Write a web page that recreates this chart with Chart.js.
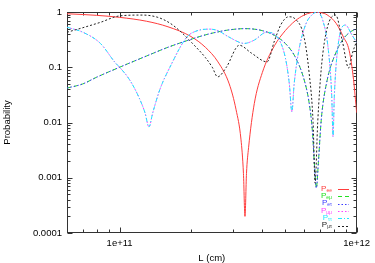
<!DOCTYPE html>
<html><head><meta charset="utf-8">
<script src="https://cdn.jsdelivr.net/npm/chart.js@4/dist/chart.umd.min.js"></script>
<style>html,body{margin:0;padding:0;background:#fff}canvas{display:block}</style>
</head><body>
<canvas id="c" width="375" height="263"></canvas>
<script>
// ---- data (L in cm, probabilities) ----
const L_ee = [6e10,7e10,8e10,1e11,1.3e11,1.6e11,2e11,2.3e11,2.6e11,2.9e11,3.1e11,3.25e11,3.33e11,3.38e11,3.43e11,3.5e11,3.7e11,4e11,4.5e11,5e11,5.5e11,6e11,6.4e11,6.76e11,7.1e11,7.5e11,8.2e11,8.8e11,9.3e11,9.7e11,1e12];
const P_ee = [0.93,0.90,0.87,0.80,0.68,0.54,0.36,0.23,0.125,0.05,0.017,0.005,0.0012,0.0002,0.0012,0.0035,0.022,0.08,0.245,0.46,0.69,0.88,0.97,1.0,0.97,0.89,0.62,0.35,0.2,0.06,0.015];

const L_em = [6e10,7e10,8e10,1e11,1.3e11,1.6e11,2e11,2.3e11,2.6e11,2.9e11,3.38e11,4e11,4.5e11,5e11,5.5e11,6e11,6.3e11,6.5e11,6.65e11,6.76e11,6.9e11,7.1e11,7.5e11,8.2e11,8.8e11,9.3e11,9.7e11,1e12];
const P_em = [0.042,0.05,0.066,0.10,0.16,0.23,0.32,0.385,0.437,0.475,0.5,0.46,0.377,0.27,0.155,0.06,0.023,0.0073,0.0015,0.00065,0.002,0.012,0.057,0.19,0.33,0.42,0.47,0.49];

const L_et = L_em.slice();
const P_et = [0.042,0.05,0.066,0.10,0.16,0.23,0.32,0.385,0.437,0.475,0.5,0.46,0.377,0.27,0.155,0.06,0.023,0.0073,0.0015,0.00065,0.002,0.012,0.057,0.19,0.33,0.42,0.47,0.49];

const L_mm = [6e10,7e10,8.3e10,9.6e10,1e11,1.1e11,1.2e11,1.28e11,1.33e11,1.38e11,1.48e11,1.63e11,1.92e11,2.1e11,2.4e11,2.6e11,2.9e11,3.36e11,3.7e11,4.17e11,4.65e11,5e11,5.2e11,5.33e11,5.45e11,5.7e11,6.1e11,6.5e11,6.8e11,7.2e11,7.6e11,7.85e11,7.95e11,8.05e11,8.4e11,8.98e11,9.5e11,1e12];
const P_mm = [0.53,0.43,0.27,0.12,0.1,0.06,0.03,0.015,0.0083,0.015,0.04,0.1,0.35,0.45,0.49,0.46,0.35,0.27,0.31,0.43,0.34,0.15,0.05,0.0155,0.05,0.2,0.6,0.9,1.0,0.7,0.2,0.03,0.0055,0.03,0.3,0.58,0.4,0.28];

const L_tt = L_mm.slice();
const P_tt = [0.53,0.43,0.27,0.12,0.1,0.06,0.03,0.015,0.0083,0.015,0.04,0.1,0.35,0.45,0.49,0.46,0.35,0.27,0.31,0.43,0.34,0.15,0.05,0.0155,0.05,0.2,0.6,0.9,1.0,0.7,0.2,0.03,0.0055,0.03,0.3,0.58,0.4,0.28];

const L_mt = [6e10,7e10,8.3e10,1e11,1.25e11,1.45e11,1.63e11,1.8e11,2.03e11,2.3e11,2.46e11,2.59e11,2.82e11,3.2e11,3.6e11,4.19e11,4.5e11,4.8e11,5.17e11,5.5e11,6e11,6.3e11,6.55e11,6.68e11,6.85e11,7.1e11,7.5e11,8.16e11,8.7e11,9.25e11,9.6e11,1e12];
const P_mt = [0.43,0.52,0.65,0.85,0.88,0.8,0.63,0.45,0.27,0.15,0.1,0.067,0.1,0.25,0.18,0.125,0.3,0.6,0.82,0.75,0.35,0.08,0.01,0.0008,0.01,0.1,0.5,0.88,0.3,0.097,0.18,0.3];

const seriesNames = ['ee','e\u03bc','e\u03c4','\u03bc\u03bc','\u03c4\u03c4','\u03bc\u03c4'];
const xTickValues = [1e11, 1e12];
const xTickLabels = ['1e+11', '1e+12'];
const yTickValues = [1e-4, 1e-3, 1e-2, 1e-1, 1];
const yTickLabels = ['0.0001', '0.001', '0.01', '0.1', '1'];
const xTitle = 'L (cm)';
const yTitle = 'Probability';

// ---- styles ----
const colors = ['#ff3c3c', '#22e022', '#3a3aff', '#ff40ff', '#20e8ff', '#222222'];
const dashes = [[], [4,3], [1.5,2], [1.5,2], [4,2,1,2], [2,2]];
const FONT = '"Liberation Sans", Arial, Helvetica, sans-serif';

function pts(L, P) { return L.map((v, i) => ({x: v, y: P[i]})); }
const allL = [L_ee, L_em, L_et, L_mm, L_tt, L_mt];
const allP = [P_ee, P_em, P_et, P_mm, P_tt, P_mt];

const datasets = allL.map((L, i) => ({
  label: 'P' + seriesNames[i],
  data: pts(L, allP[i]),
  borderColor: colors[i],
  backgroundColor: colors[i],
  borderWidth: 1,
  borderDash: dashes[i],
  pointRadius: 0,
  fill: false,
  cubicInterpolationMode: 'monotone',
  order: 6 - i
}));

const frameTicks = {
  id: 'frameTicks',
  beforeDatasetsDraw(chart) {
    const {ctx, chartArea: a, scales: {x, y}} = chart;
    ctx.save();
    ctx.strokeStyle = '#333';
    ctx.lineWidth = 1;
    const l = Math.round(a.left) + 0.5, r = Math.round(a.right) - 0.5;
    const t = Math.round(a.top) + 0.5, b = Math.round(a.bottom) - 0.5;
    ctx.strokeRect(l, t, r - l, b - t);
    ctx.beginPath();
    for (let d = -4; d <= 0; d++) {
      for (let m = 1; m <= 9; m++) {
        const v = m * Math.pow(10, d);
        if (v > 1.0000001) break;
        const py = Math.round(y.getPixelForValue(v)) + 0.5;
        const len = m === 1 ? 5 : 3;
        ctx.moveTo(l, py); ctx.lineTo(l + len, py);
        ctx.moveTo(r, py); ctx.lineTo(r - len, py);
      }
    }
    for (let d = 10; d <= 12; d++) {
      for (let m = 1; m <= 9; m++) {
        const v = m * Math.pow(10, d);
        if (v < x.min * 0.999 || v > x.max * 1.001) continue;
        const px = Math.round(x.getPixelForValue(v)) + 0.5;
        const len = m === 1 ? 5 : 3;
        ctx.moveTo(px, b); ctx.lineTo(px, b - len);
        ctx.moveTo(px, t); ctx.lineTo(px, t + len);
      }
    }
    ctx.stroke();
    ctx.restore();
  }
};

const keyPlugin = {
  id: 'keyPlugin',
  afterDatasetsDraw(chart) {
    const {ctx} = chart;
    ctx.save();
    const xEnd = 332, s0 = 338, s1 = 349;
    for (let i = 0; i < seriesNames.length; i++) {
      const cy = 189 + i * 7.3;
      ctx.fillStyle = colors[i];
      ctx.textBaseline = 'middle';
      ctx.font = '5px ' + FONT;
      const sw = ctx.measureText(seriesNames[i]).width;
      ctx.textAlign = 'right';
      ctx.fillText(seriesNames[i], xEnd, cy + 1.5);
      ctx.font = '8px ' + FONT;
      ctx.fillText('P', xEnd - sw, cy - 0.5);
      ctx.strokeStyle = colors[i];
      ctx.lineWidth = 1;
      ctx.setLineDash(dashes[i]);
      ctx.beginPath();
      ctx.moveTo(s0, Math.round(cy) + 0.5);
      ctx.lineTo(s1, Math.round(cy) + 0.5);
      ctx.stroke();
    }
    ctx.restore();
  }
};

new Chart(document.getElementById('c'), {
  type: 'line',
  data: {datasets},
  options: {
    responsive: false,
    animation: false,
    devicePixelRatio: 1,
    layout: {padding: {left: 0, right: 17, top: 12, bottom: 0}},
    plugins: {legend: {display: false}, tooltip: {enabled: false}},
    scales: {
      x: {
        type: 'logarithmic',
        min: 6e10, max: 1e12,
        afterFit(s) { s.height = 30; },
        afterBuildTicks(s) { s.ticks = xTickValues.map(v => ({value: v})); },
        grid: {display: false, drawTicks: false},
        border: {display: false},
        ticks: {
          padding: 5, maxRotation: 0, autoSkip: false,
          color: '#000', font: {family: FONT, size: 9.5},
          callback: (v) => { const k = xTickValues.indexOf(v); return k >= 0 ? xTickLabels[k] : ''; }
        },
        title: {display: true, text: xTitle, color: '#000', font: {family: FONT, size: 9.5, lineHeight: 1}, padding: {top: 0, bottom: 0}}
      },
      y: {
        type: 'logarithmic',
        min: 1e-4, max: 1,
        afterFit(s) { s.width = 67; },
        afterBuildTicks(s) { s.ticks = yTickValues.map(v => ({value: v})); },
        grid: {display: false, drawTicks: false},
        border: {display: false},
        ticks: {
          padding: 5, autoSkip: false,
          color: '#000', font: {family: FONT, size: 9.5},
          callback: (v) => { const k = yTickValues.findIndex(t => Math.abs(t - v) / t < 1e-6); return k >= 0 ? yTickLabels[k] : ''; }
        },
        title: {display: true, text: yTitle, color: '#000', font: {family: FONT, size: 9.5, lineHeight: 1.2}, padding: {top: 2, bottom: 0}}
      }
    }
  },
  plugins: [frameTicks, keyPlugin]
});
</script>
</body></html>
